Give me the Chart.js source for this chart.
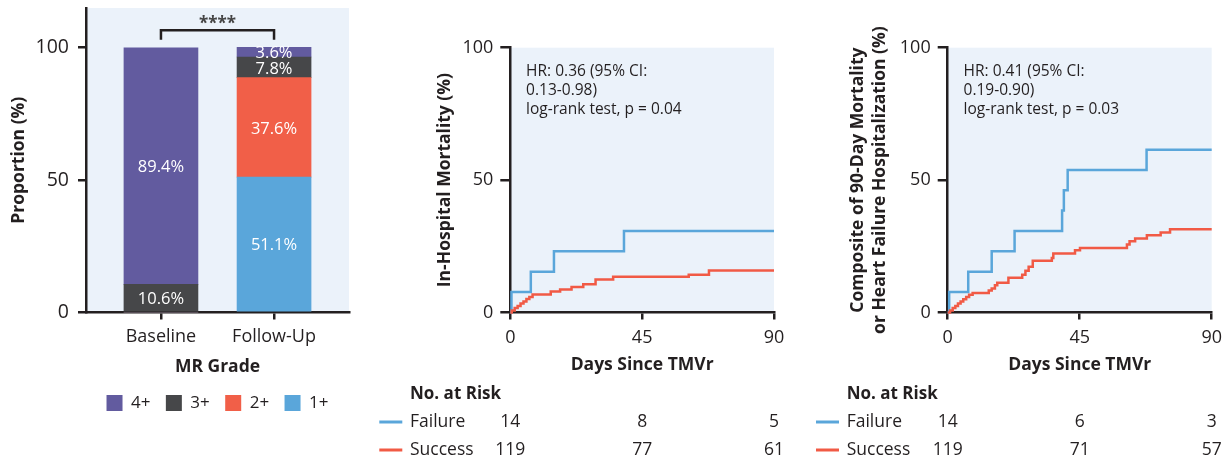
<!DOCTYPE html>
<html><head><meta charset="utf-8">
<script src="https://cdn.jsdelivr.net/npm/chart.js@4.4.1/dist/chart.umd.min.js"></script>
<style>
html,body{margin:0;padding:0;background:#fff;}
body{width:1230px;height:463px;position:relative;overflow:hidden;}
canvas{position:absolute;top:0;}
</style></head><body>
<canvas id="c1" width="370" height="463" style="left:0;width:370px;height:463px"></canvas>
<canvas id="c2" width="430" height="463" style="left:370px;width:430px;height:463px"></canvas>
<canvas id="c3" width="430" height="463" style="left:800px;width:430px;height:463px"></canvas>
<script>
// ---------- data: MR grade panel ----------
const mrCategories = ['Baseline', 'Follow-Up'];
const mrGrades = ['4+', '3+', '2+', '1+'];
const grade4 = [89.4, 3.6];
const grade3 = [10.6, 7.8];
const grade2 = [0, 37.6];
const grade1 = [0, 51.1];
const proportionTicks = [0, 50, 100];
const significanceLabel = '****';

// ---------- data: Kaplan-Meier panels ----------
const dayTicks = [0, 45, 90];
const pctTicks = [0, 50, 100];
const riskDays = [0, 45, 90];
const groupNames = ['Failure', 'Success'];

const mortFailureDays = [0, 0.4, 7.0, 14.9, 38.8, 90];
const mortFailurePct  = [0, 7.7, 15.4, 23.1, 30.8, 30.8];
const mortSuccessDays = [0, 0.5, 1.5, 2.5, 3.5, 4.5, 5.5, 6.5, 7.6, 13.8, 17.0, 20.9, 24.9, 29.1, 35.1, 60.9, 67.8, 90];
const mortSuccessPct  = [0, 0.8, 1.7, 2.5, 3.4, 4.2, 5.1, 5.9, 6.8, 7.9, 8.7, 9.6, 10.7, 12.5, 13.5, 14.3, 15.9, 15.9];
const mortRiskFailure = [14, 8, 5];
const mortRiskSuccess = [119, 77, 61];
const mortStats = ['HR: 0.36 (95% CI:', '0.13-0.98)', 'log-rank test, p = 0.04'];

const compFailureDays = [0, 0.5, 7.0, 15.0, 22.8, 39.0, 39.6, 40.9, 67.8, 90];
const compFailurePct  = [0, 7.7, 15.4, 23.1, 30.8, 38.5, 46.2, 53.8, 61.5, 61.5];
const compSuccessDays = [0, 0.8, 1.7, 2.6, 3.5, 4.4, 5.3, 6.3, 7.3, 8.5, 14.0, 15.0, 16.1, 16.9, 20.7, 25.4, 26.5, 27.6, 29.0, 35.5, 36.0, 43.4, 45.1, 61.1, 62.0, 63.9, 67.9, 72.6, 75.8, 90];
const compSuccessPct  = [0, 0.8, 1.7, 2.5, 3.4, 4.2, 5.0, 5.9, 6.7, 7.4, 8.3, 9.1, 10.3, 11.2, 13.1, 14.3, 15.8, 17.3, 19.5, 20.6, 22.3, 23.5, 24.4, 25.7, 26.9, 27.9, 29.2, 30.2, 31.4, 31.4];
const compRiskFailure = [14, 6, 3];
const compRiskSuccess = [119, 71, 57];
const compStats = ['HR: 0.41 (95% CI:', '0.19-0.90)', 'log-rank test, p = 0.03'];

// ---------- styles ----------
const INK = '#231f20';
const PANEL_BG = '#ebf2fa';
const GRADE_COLORS = {'4+': '#625b9f', '3+': '#464749', '2+': '#f15f48', '1+': '#5aa6da'};
const FAIL_COLOR = '#5aa6da';
const SUCC_COLOR = '#f15a45';
const FONT = '"Open Sans", Lato, sans-serif';
Chart.defaults.font.family = FONT;
Chart.defaults.color = INK;
Chart.defaults.devicePixelRatio = 1;

const bgPlugin = {
  id: 'panelBg',
  beforeDraw(chart) {
    const {ctx, chartArea: a} = chart;
    ctx.save();
    ctx.fillStyle = PANEL_BG;
    ctx.fillRect(a.left, a.top, a.right - a.left, a.bottom - a.top);
    ctx.restore();
  }
};

function fixedTicks(list) {
  return (scale) => { scale.ticks = list.map(v => ({value: v})); };
}
function fixWidth(w) {
  return (s) => { s.width = w; s.paddingTop = 0; s.paddingBottom = 0; };
}
function fixHeight(h) {
  return (s) => { s.height = h; s.paddingLeft = 0; s.paddingRight = 0; };
}
function axisCommon(tickLen) {
  return {
    offset: false,
    border: {display: true, color: INK, width: 2.5},
    grid: {display: true, offset: false, drawOnChartArea: false, drawTicks: true, tickLength: tickLen, color: INK, tickColor: INK, lineWidth: 2.5, tickWidth: 2.5}
  };
}

// ---------- Panel A: stacked bars ----------
const catPos = [0.285, 0.715];
const gradeValues = {'4+': grade4, '3+': grade3, '2+': grade2, '1+': grade1};
const barDatasets = mrGrades.slice().reverse().map(g => ({
  label: g,
  data: gradeValues[g].map((v, i) => ({x: catPos[i], y: v})),
  backgroundColor: GRADE_COLORS[g],
  borderWidth: 0,
  barThickness: 74
}));

const barLabelPlugin = {
  id: 'barLabels',
  afterDatasetsDraw(chart) {
    const {ctx} = chart;
    ctx.save();
    ctx.fillStyle = '#ffffff';
    ctx.font = '16.5px ' + FONT;
    ctx.textAlign = 'center';
    ctx.textBaseline = 'middle';
    chart.data.datasets.forEach((ds, di) => {
      const meta = chart.getDatasetMeta(di);
      meta.data.forEach((el, i) => {
        const v = ds.data[i].y;
        if (!v) return;
        ctx.fillText(v.toFixed(1) + '%', el.x, (el.y + el.base) / 2 + 1.5);
      });
    });
    ctx.restore();
  }
};

const bracketPlugin = {
  id: 'sigBracket',
  afterDraw(chart) {
    const {ctx, scales: {x, y}} = chart;
    const x1 = x.getPixelForValue(catPos[0]);
    const x2 = x.getPixelForValue(catPos[1]);
    const yb = y.getPixelForValue(106.6);
    const yl = y.getPixelForValue(103.0);
    ctx.save();
    ctx.strokeStyle = INK;
    ctx.lineWidth = 2.5;
    ctx.beginPath();
    ctx.moveTo(x1, yl); ctx.lineTo(x1, yb); ctx.lineTo(x2, yb); ctx.lineTo(x2, yl);
    ctx.stroke();
    ctx.fillStyle = '#444';
    ctx.font = 'bold 17px ' + FONT;
    ctx.textAlign = 'center';
    ctx.textBaseline = 'middle';
    ctx.fillText(significanceLabel, (x1 + x2) / 2, y.getPixelForValue(109.0));
    ctx.restore();
  }
};

new Chart(document.getElementById('c1'), {
  type: 'bar',
  data: {datasets: barDatasets},
  plugins: [bgPlugin, barLabelPlugin, bracketPlugin],
  options: {
    responsive: false, animation: false,
    layout: {padding: {left: 0, right: 21, top: 8, bottom: 41.5}},
    plugins: {
      tooltip: {enabled: false},
      legend: {
        position: 'bottom', reverse: true, fullSize: false,
        labels: {boxWidth: 16, boxHeight: 16, padding: 15.4, color: INK, font: {size: 17}}
      }
    },
    scales: {
      x: Object.assign(axisCommon(7), {
        type: 'linear', min: 0, max: 1, stacked: true,
        afterBuildTicks: fixedTicks(catPos), afterFit: fixHeight(66.6),
        ticks: {autoSkip: false, maxRotation: 0, padding: 6.7, color: INK, font: {size: 18},
                callback: (v, i) => mrCategories[i]},
        title: {display: true, text: 'MR Grade', color: INK, font: {size: 17.5, weight: 'bold'}, padding: {top: 0, bottom: 1.6}}
      }),
      y: Object.assign(axisCommon(8), {
        type: 'linear', min: 0, max: 115, stacked: true,
        afterBuildTicks: fixedTicks(proportionTicks), afterFit: fixWidth(86),
        ticks: {padding: 9, color: INK, font: {size: 19.5}},
        title: {display: true, text: 'Proportion (%)', color: INK, font: {size: 17.5, weight: 'bold'}, padding: {top: 8.5, bottom: 0}}
      })
    }
  }
});

// ---------- Panels B & C: Kaplan-Meier ----------
function kmPoints(days, pct) { return days.map((d, i) => ({x: d, y: pct[i]})); }

function statsPlugin(lines) {
  return {
    id: 'stats',
    afterDraw(chart) {
      const {ctx, scales: {x, y}} = chart;
      ctx.save();
      ctx.fillStyle = INK;
      ctx.font = '15.5px ' + FONT;
      ctx.textAlign = 'left';
      ctx.textBaseline = 'middle';
      const x0 = x.getPixelForValue(5.4);
      const y0 = y.getPixelForValue(91);
      lines.forEach((t, i) => ctx.fillText(t, x0, y0 + i * 19.2));
      ctx.restore();
    }
  };
}

function riskPlugin(labelX, failRisk, succRisk) {
  return {
    id: 'riskTable',
    afterDraw(chart) {
      const {ctx, scales: {x}} = chart;
      ctx.save();
      ctx.fillStyle = INK;
      ctx.textBaseline = 'middle';
      ctx.textAlign = 'left';
      ctx.font = 'bold 17px ' + FONT;
      ctx.fillText('No. at Risk', labelX, 394);
      ctx.font = '17.5px ' + FONT;
      const rows = [[groupNames[0], FAIL_COLOR, failRisk, 422], [groupNames[1], SUCC_COLOR, succRisk, 450]];
      rows.forEach(([name, col, vals, yy]) => {
        ctx.strokeStyle = col;
        ctx.lineWidth = 3;
        ctx.beginPath();
        ctx.moveTo(labelX - 30.7, yy); ctx.lineTo(labelX - 7.7, yy);
        ctx.stroke();
        ctx.textAlign = 'left';
        ctx.fillText(name, labelX, yy);
        ctx.textAlign = 'center';
        vals.forEach((v, i) => ctx.fillText(String(v), x.getPixelForValue(riskDays[i]), yy));
      });
      ctx.restore();
    }
  };
}

function kmChart(id, cfg) {
  return new Chart(document.getElementById(id), {
    type: 'line',
    data: {
      datasets: [
        {label: groupNames[1], data: kmPoints(cfg.succDays, cfg.succPct), borderColor: SUCC_COLOR},
        {label: groupNames[0], data: kmPoints(cfg.failDays, cfg.failPct), borderColor: FAIL_COLOR}
      ].map(d => Object.assign(d, {stepped: 'before', pointRadius: 0, borderWidth: 2.5, fill: false, tension: 0, clip: false}))
    },
    plugins: [bgPlugin, statsPlugin(cfg.stats), riskPlugin(cfg.riskX, cfg.failRisk, cfg.succRisk)],
    options: {
      responsive: false, animation: false,
      layout: {padding: {left: 0, right: cfg.padRight, top: 47.7, bottom: 87}},
      plugins: {legend: {display: false}, tooltip: {enabled: false}},
      scales: {
        x: Object.assign(axisCommon(7), {
          type: 'linear', min: 0, max: 90,
          afterBuildTicks: fixedTicks(dayTicks), afterFit: fixHeight(63.5),
          ticks: {padding: 7.7, color: INK, font: {size: 18}, maxRotation: 0},
          title: {display: true, text: 'Days Since TMVr', color: INK, font: {size: 17.5, weight: 'bold'}, padding: {top: 0, bottom: 0}}
        }),
        y: Object.assign(axisCommon(10), {
          type: 'linear', min: 0, max: 100,
          afterBuildTicks: fixedTicks(pctTicks), afterFit: fixWidth(cfg.yWidth),
          ticks: {padding: 7, color: INK, font: {size: 18}},
          title: {display: true, text: cfg.yTitle, color: INK, font: {size: 17.5, weight: 'bold', lineHeight: cfg.titleLH}, padding: {top: cfg.titlePad, bottom: 0}}
        })
      }
    }
  });
}

kmChart('c2', {
  failDays: mortFailureDays, failPct: mortFailurePct,
  succDays: mortSuccessDays, succPct: mortSuccessPct,
  stats: mortStats, failRisk: mortRiskFailure, succRisk: mortRiskSuccess,
  riskX: 40, padRight: 26, yWidth: 140.3,
  yTitle: 'In-Hospital Mortality (%)', titleLH: 1.2, titlePad: 64.5
});

kmChart('c3', {
  failDays: compFailureDays, failPct: compFailurePct,
  succDays: compSuccessDays, succPct: compSuccessPct,
  stats: compStats, failRisk: compRiskFailure, succRisk: compRiskSuccess,
  riskX: 46.7, padRight: 18.3, yWidth: 147.7,
  yTitle: ['Composite of 90-Day Mortality', 'or Heart Failure Hospitalization (%)'], titleLH: 1.257, titlePad: 47
});
</script>
</body></html>
